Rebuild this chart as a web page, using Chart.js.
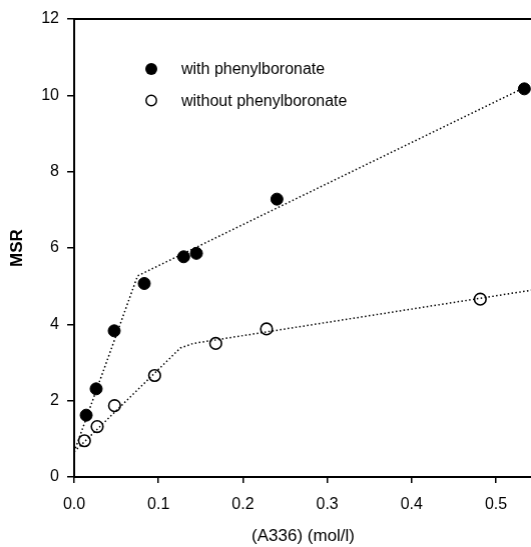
<!DOCTYPE html>
<html>
<head>
<meta charset="utf-8">
<script src="https://cdn.jsdelivr.net/npm/chart.js@4"></script>
<style>
  body { margin: 0; background: #fff; overflow: hidden; }
  #wrap { width: 538.5px; height: 547px; position: relative; }
</style>
</head>
<body>
<div id="wrap"><canvas id="msrChart"></canvas></div>
<script>
// measured points
const withX = [0.0143, 0.0261, 0.0475, 0.0831, 0.1298, 0.1449, 0.2403, 0.5336];
const withY = [1.62, 2.31, 3.83, 5.07, 5.77, 5.86, 7.28, 10.17];
const withoutX = [0.0122, 0.0273, 0.0479, 0.0954, 0.1678, 0.228, 0.4813];
const withoutY = [0.95, 1.32, 1.87, 2.66, 3.50, 3.88, 4.66];

// dotted piecewise fit lines
const fitWithX = [0, 0.0752, 0.5436];
const fitWithY = [0.66, 5.27, 10.31];
const fitWithoutX = [0, 0.1259, 0.1413, 0.5436];
const fitWithoutY = [0.66, 3.38, 3.50, 4.90];

const xTicks = [0, 0.1, 0.2, 0.3, 0.4, 0.5];
const yTicks = [0, 2, 4, 6, 8, 10, 12];
const xMax = 0.5428;
const labels = ['with phenylboronate', 'without phenylboronate'];

const pts = (xs, ys) => xs.map((x, i) => ({ x: x, y: ys[i] }));
const fontFam = 'Arial, "Liberation Sans", sans-serif';

// legend drawn inside the plot, top left
const innerLegend = {
    id: 'innerLegend',
    afterDatasetsDraw(chart) {
        const ctx = chart.ctx;
        const a = chart.chartArea;
        const x0 = a.left + 77;
        const rows = [a.top + 50, a.top + 81.5];
        ctx.save();
        ctx.font = '16px ' + fontFam;
        ctx.textBaseline = 'middle';
        ctx.fillStyle = '#000';
        rows.forEach((y, i) => {
            ctx.beginPath();
            if (i === 0) {
                ctx.arc(x0, y, 6, 0, Math.PI * 2);
                ctx.fill();
            } else {
                ctx.arc(x0, y, 5.2, 0, Math.PI * 2);
                ctx.lineWidth = 1.5;
                ctx.strokeStyle = '#000';
                ctx.stroke();
            }
            ctx.fillText(labels[i], x0 + 30, y + 1);
        });
        ctx.restore();
    }
};

const noSidePad = axis => {
    axis.paddingLeft = 0;
    axis.paddingRight = 0;
};

const ctx = document.getElementById('msrChart').getContext('2d');
const chart = new Chart(ctx, {
    type: 'scatter',
    data: {
        datasets: [
            {
                label: labels[0],
                data: pts(withX, withY),
                pointRadius: 6,
                pointBackgroundColor: '#000',
                pointBorderColor: '#000',
                pointBorderWidth: 1,
                showLine: false
            },
            {
                label: labels[1],
                data: pts(withoutX, withoutY),
                pointRadius: 5.8,
                pointBackgroundColor: 'rgba(0,0,0,0)',
                pointBorderColor: '#000',
                pointBorderWidth: 1.6,
                showLine: false
            },
            {
                label: 'fit with',
                data: pts(fitWithX, fitWithY),
                showLine: true,
                pointRadius: 0,
                borderColor: '#000',
                borderWidth: 1.5,
                borderDash: [1.5, 2.4]
            },
            {
                label: 'fit without',
                data: pts(fitWithoutX, fitWithoutY),
                showLine: true,
                pointRadius: 0,
                borderColor: '#000',
                borderWidth: 1.5,
                borderDash: [1.5, 2.4]
            }
        ]
    },
    options: {
        responsive: true,
        maintainAspectRatio: false,
        animation: false,
        layout: { padding: { top: 19, left: 0, right: 0, bottom: 0 } },
        plugins: {
            legend: { display: false },
            tooltip: { enabled: false }
        },
        scales: {
            x: {
                type: 'linear',
                min: 0,
                max: xMax,
                afterBuildTicks: axis => { axis.ticks = xTicks.map(v => ({ value: v })); },
                afterFit: axis => { axis.height = 70; noSidePad(axis); },
                ticks: {
                    color: '#000',
                    font: { family: fontFam, size: 16 },
                    padding: 12,
                    maxRotation: 0,
                    callback: v => v.toFixed(1)
                },
                grid: { drawOnChartArea: false, drawTicks: true, tickLength: 6, color: '#000', lineWidth: 1.5 },
                border: { display: true, color: '#000', width: 2 },
                title: {
                    display: true,
                    text: '(A336) (mol/l)',
                    color: '#000',
                    font: { family: fontFam, size: 17 },
                    padding: { top: 0, bottom: 0 }
                }
            },
            xTop: {
                type: 'linear',
                position: 'top',
                min: 0,
                max: xMax,
                afterFit: axis => { axis.height = 0; noSidePad(axis); },
                ticks: { display: false },
                grid: { display: false },
                border: { display: true, color: '#000', width: 2 }
            },
            y: {
                min: 0,
                max: 12,
                afterBuildTicks: axis => { axis.ticks = yTicks.map(v => ({ value: v })); },
                afterFit: axis => { axis.width = 74; },
                ticks: {
                    color: '#000',
                    font: { family: fontFam, size: 16 },
                    padding: 8
                },
                grid: { drawOnChartArea: false, drawTicks: true, tickLength: 7, color: '#000', lineWidth: 1.5 },
                border: { display: true, color: '#000', width: 2 },
                title: {
                    display: true,
                    text: 'MSR',
                    color: '#000',
                    font: { family: fontFam, size: 17, weight: 'bold' },
                    padding: { top: 7, bottom: 0 }
                }
            }
        }
    },
    plugins: [innerLegend]
});
</script>
</body>
</html>
